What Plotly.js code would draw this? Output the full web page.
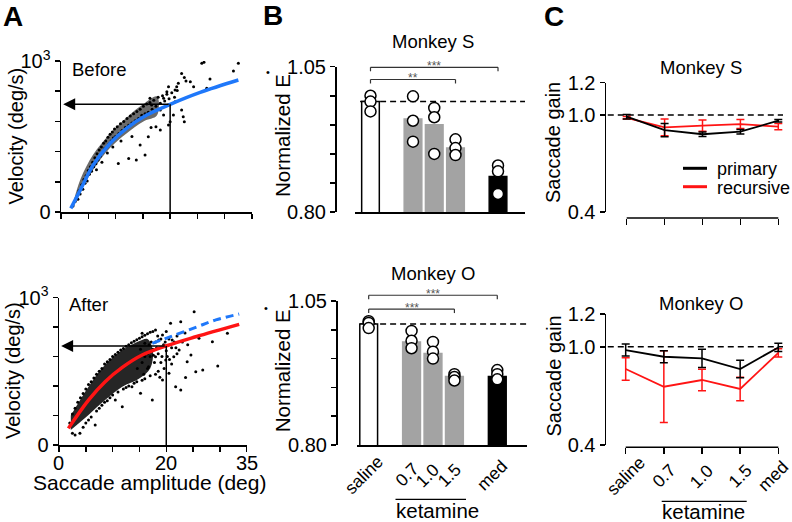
<!DOCTYPE html>
<html><head><meta charset="utf-8">
<script src="https://cdn.plot.ly/plotly-3.0.1.min.js"></script>
<style>html,body{margin:0;padding:0;background:#fff}#chart{width:792px;height:522px}</style>
</head><body><div id="chart"></div>
<script>
// ---------------- DATA ----------------
// Panel A: main sequence (amplitude deg, peak velocity deg/s)
const beforeCurveAmp = [1.8, 3.6, 5.9, 9.0, 12.0, 15.7, 20.0, 25.5, 32.5];
const beforeCurveVel = [24, 150, 311, 455, 554, 642, 713, 792, 874];
const afterCurveAmp = [1.75, 5.5, 8.6, 11.8, 15.5, 19.9, 25.5, 33.6];
const afterCurveVel = [113, 305, 430, 527, 611, 672, 735, 819];
const beforeRefAmp = [17.4, 21.1, 25.5, 29.25, 33.6];
const beforeRefVel = [690, 740, 799, 849, 889];
const refAmp = 20;
const refVelBefore = 713;
const refVelAfter = 672;
// outlines of the densest part of each cloud
const beforeCoreAmp = [2.3, 3.6, 5.9, 9.0, 12.0, 15.1, 17.6, 17.6, 15.1, 12.0, 9.0, 5.9, 3.6, 2.3];
const beforeCoreVel = [70, 220, 380, 520, 625, 715, 765, 640, 600, 520, 425, 280, 140, 30];
const afterCoreAmp = [2.2, 5.5, 8.6, 11.8, 14.9, 16.5, 17.5, 17.0, 14.9, 11.8, 8.6, 5.5, 2.2];
const afterCoreVel = [200, 396, 545, 645, 705, 720, 640, 520, 450, 396, 305, 204, 102];
const beforeDots = [
[2.2,40],[2.6,70],[2.9,100],[3.1,85],[3.3,140],[3.5,120],[3.8,180],[4.0,150],[4.2,215],[4.4,190],[4.6,240],[4.8,205],[5.0,275],[5.2,250],[5.4,300],[5.6,270],[5.8,330],[6.0,300],[6.2,360],[6.4,320],[6.6,385],[6.8,345],[7.0,410],[7.2,370],[7.4,430],[7.6,395],[7.8,455],[8.0,420],[8.2,470],[8.4,430],[8.6,495],[8.8,450],[9.0,515],[9.2,470],[9.4,530],[9.6,490],[9.8,550],[10.0,500],[10.3,565],[10.6,520],[10.9,585],[11.2,540],[11.5,600],[11.8,560],[12.1,620],[12.4,575],[12.7,635],[13.0,590],[13.3,650],[13.6,605],[13.9,665],[14.2,620],[14.5,680],[14.8,640],[15.1,700],[15.4,650],[15.7,715],[16.0,660],[16.3,725],[16.7,680],[17.0,740],[17.4,700],[17.8,760],[18.2,720],[18.6,770],[19.0,735],[19.4,780],[19.8,750],[20.3,790],[20.8,760],[21.3,805],
[6.5,280],[7.5,330],[8.5,390],[9.5,430],[10.5,322],[11.0,470],[12.4,355],[13.0,500],[13.8,344],[14.5,444],[15.4,377],[16.0,499],[16.5,560],[17.4,565],[18.2,543],[18.2,675],[18.8,642],[18.8,753],[19.7,576],[20.0,598],[20.6,642],[20.9,730],[22.1,675],[22.4,631],[22.6,598],[16.3,753],[16.6,709],
[19.4,797],[19.7,830],[20.9,808],[21.2,830],[21.5,852],[22.1,918],[22.6,890],[22.9,868],[23.7,863],[24.3,830],[25.8,985],[26.2,991],[26.7,819],[27.3,881],[31.6,934],[32.5,985]];
const afterDots = [
[2.0,150],[2.5,210],[3.0,250],[3.5,290],[4.0,320],[4.5,350],[5.0,380],[5.5,410],[6.0,430],[6.5,455],[7.0,480],[7.5,500],[8.0,520],[8.5,550],[9.0,565],[9.5,580],[10.0,600],[10.5,615],[11.0,630],[11.5,645],[12.0,655],[12.5,670],[13.0,680],[13.5,695],[14.0,705],[14.5,715],[15.0,725],[15.5,735],[16.0,745],[16.5,755],[17.0,765],[17.5,770],[18.0,781],[18.6,713],[19.3,747],[20.0,770],[20.8,826],[21.1,713],[22.7,837],[25.2,905],[15.5,758],
[2.5,80],[3.0,68],[3.9,79],[4.5,120],[5.0,150],[5.5,170],[6.0,190],[6.75,136],[7.0,230],[7.5,250],[8.0,270],[8.5,290],[9.0,300],[9.5,320],[10.0,340],[10.5,305],[11.0,360],[11.8,260],[12.0,380],[12.5,390],[13.0,400],[13.6,396],[14.0,420],[14.5,430],[15.2,351],[15.5,440],[16.0,450],[16.7,531],[17.0,470],[17.4,305],[18.0,480],[18.5,500],[19.3,441],[19.9,577],[20.5,487],[21.4,599],[21.75,396],[22.4,645],[22.7,373],[23.6,459],[23.9,566],[24.6,611],[25.5,498],[26.1,724],[26.8,509],[28.6,701],[29.6,536],[31.4,758],[18.0,599],
[17.0,600],[17.5,650],[18.0,700],[18.5,620],[19.0,560],[19.5,680],[20.0,640],[20.5,720],[21.0,660],[21.5,700],[22.0,740],[19.0,720],[18.2,660],[17.8,560],[16.5,620],[16.0,690],[20.2,600],[21.0,550],[22.0,620],[23.0,700],[23.5,760],[24.0,680],[19.6,520],[18.8,460],
[15.5,560],[16.0,600],[16.5,520],[15.8,480],[17.2,700],[18.4,740],[19.2,600],[20.6,580],[17.6,610],[16.8,680],[15.2,650],[14.6,520],[19.8,700],[21.8,660]];
const ampTicks = [0, 5, 10, 15, 20, 25, 30, 35];
const ampLabelVals = [0, 20, 35];
const velTicks = [0, 200, 400, 600, 800, 1000];
const velTickText = ['0', '', '', '', '', '10<sup>3</sup>'];

// Panel B: normalized E-dot
const bCats = ['saline', '0.7', '1.0', '1.5', 'med'];
const bSlot = [0, 2, 3, 4, 6];
const bTopMeans = [0.990, 0.960, 0.950, 0.910, 0.861];
const bTopPts = [[1.000, 0.990, 0.973], [0.999, 0.957, 0.921], [0.979, 0.963, 0.900], [0.925, 0.910, 0.898], [0.880, 0.870, 0.831]];
const bBotMeans = [1.010, 0.979, 0.959, 0.919, 0.919];
const bBotPts = [[1.015, 1.012, 1.003], [0.998, 0.981, 0.968], [0.979, 0.962, 0.950], [0.923, 0.918, 0.912], [0.930, 0.923, 0.914]];
// significance brackets: category indices and bracket height (in E units)
const bTopSig = [{from: 0, to: 4, y: 1.049, label: '***'}, {from: 0, to: 3, y: 1.028, label: '**'}];
const bBotSig = [{from: 0, to: 4, y: 1.060, label: '***'}, {from: 0, to: 3, y: 1.036, label: '***'}];
const eTicks = [0.80, 0.85, 0.90, 0.95, 1.00, 1.05];
const eTickText = ['0.80', '', '', '', '', '1.05'];

// Panel C: saccade gain
const cCats = ['saline', '0.7', '1.0', '1.5', 'med'];
const cSlot = [0, 1, 2, 3, 4];
const cTopPrimary = [0.990, 0.907, 0.881, 0.897, 0.965];
const cTopPrimaryErr = [0.014, 0.041, 0.014, 0.014, 0.008];
const cTopRecursive = [0.983, 0.924, 0.934, 0.944, 0.928];
const cTopRecursiveErr = [0.008, 0.052, 0.035, 0.028, 0.019];
const cBotPrimary = [0.980, 0.939, 0.929, 0.864, 0.996];
const cBotPrimaryErr = [0.037, 0.037, 0.055, 0.053, 0.025];
const cBotRecursive = [0.864, 0.756, 0.797, 0.742, 0.963];
const cBotRecursiveErr = [0.069, 0.219, 0.065, 0.072, 0.025];
const gTicks = [0.4, 1.0, 1.2];
const gTickText = ['0.4', '1.0', '1.2'];

// ---------------- LAYOUT HELPERS ----------------
const W = 792, H = 522;
const fx = p => p / W;
const fy = p => 1 - p / H;
const FONT = 'Arial, "Liberation Sans", sans-serif';
const BLUE = '#1f78fa', RED = '#ff1414', GRAY = '#a3a3a3';

function ax(o) {
  return Object.assign({showgrid: false, zeroline: false, showline: true, linecolor: '#000', linewidth: 1.5,
    ticks: 'outside', ticklen: 5, tickwidth: 1.5, tickcolor: '#000', tickfont: {size: 20, color: '#000', family: FONT},
    fixedrange: true}, o);
}
function toPaper(v, dom, rng) { return dom[0] + (v - rng[0]) / (rng[1] - rng[0]) * (dom[1] - dom[0]); }

const domX2 = [fx(59), fx(246.7)], rngA = [0, 35];
const domX3 = [fx(355), fx(525)], rngX3 = [-0.729, 7.27];
const domX4 = [fx(356.7), fx(526.7)], rngX4 = [-0.559, 7.372];
const domY3 = [fy(212), fy(66.7)], domY4 = [fy(445), fy(301)], eRange = [0.8, 1.05];
const domX6 = [fx(606), fx(783)], rngX6 = [-0.516, 4.123];

// ---------------- TRACES ----------------
const traces = [];
// A top
traces.push({type: 'scatter', mode: 'lines', x: beforeCoreAmp, y: beforeCoreVel, fill: 'toself', fillcolor: 'rgba(0,0,0,0.58)', line: {width: 0, color: 'rgba(0,0,0,0)', shape: 'spline'}, xaxis: 'x', yaxis: 'y', hoverinfo: 'skip'});
traces.push({type: 'scatter', mode: 'markers', x: beforeDots.map(d => d[0]), y: beforeDots.map(d => d[1]), marker: {size: 3, color: '#000'}, xaxis: 'x', yaxis: 'y'});
traces.push({type: 'scatter', mode: 'lines', x: beforeCurveAmp, y: beforeCurveVel, line: {color: BLUE, width: 3.5, shape: 'spline'}, xaxis: 'x', yaxis: 'y'});
// A bottom
traces.push({type: 'scatter', mode: 'lines', x: afterCoreAmp, y: afterCoreVel, fill: 'toself', fillcolor: 'rgba(0,0,0,0.85)', line: {width: 0, color: 'rgba(0,0,0,0)', shape: 'spline'}, xaxis: 'x2', yaxis: 'y2', hoverinfo: 'skip'});
traces.push({type: 'scatter', mode: 'markers', x: afterDots.map(d => d[0]), y: afterDots.map(d => d[1]), marker: {size: 3, color: '#000'}, xaxis: 'x2', yaxis: 'y2'});
traces.push({type: 'scatter', mode: 'lines', x: beforeRefAmp, y: beforeRefVel, line: {color: BLUE, width: 3, dash: '8px,5px', shape: 'spline'}, xaxis: 'x2', yaxis: 'y2'});
traces.push({type: 'scatter', mode: 'lines', x: afterCurveAmp, y: afterCurveVel, line: {color: RED, width: 3.5, shape: 'spline'}, xaxis: 'x2', yaxis: 'y2'});

// B
const barFill = ['#ffffff', GRAY, GRAY, GRAY, '#000000'];
const barLine = ['#000000', GRAY, GRAY, GRAY, '#000000'];
function bPanel(means, pts, xa, ya) {
  traces.push({type: 'bar', x: bSlot, y: means, width: 0.83, marker: {color: barFill, line: {color: barLine, width: 1.5}}, xaxis: xa, yaxis: ya});
  const px = [], py = [];
  pts.forEach((arr, i) => arr.forEach(v => { px.push(bSlot[i]); py.push(v); }));
  traces.push({type: 'scatter', mode: 'markers', x: px, y: py, marker: {size: 11, color: '#fff', line: {color: '#000', width: 1.5}}, xaxis: xa, yaxis: ya, cliponaxis: false});
}
bPanel(bTopMeans, bTopPts, 'x3', 'y3');
bPanel(bBotMeans, bBotPts, 'x4', 'y4');

// C
function cPanel(prim, primErr, rec, recErr, xa, ya) {
  traces.push({type: 'scatter', mode: 'lines', x: cSlot, y: rec, name: 'recursive', line: {color: RED, width: 1.8},
    error_y: {type: 'data', array: recErr, visible: true, color: RED, thickness: 1.5, width: 4}, xaxis: xa, yaxis: ya, cliponaxis: false});
  traces.push({type: 'scatter', mode: 'lines', x: cSlot, y: prim, name: 'primary', line: {color: '#000', width: 1.8},
    error_y: {type: 'data', array: primErr, visible: true, color: '#000', thickness: 1.5, width: 4}, xaxis: xa, yaxis: ya, cliponaxis: false});
}
cPanel(cTopPrimary, cTopPrimaryErr, cTopRecursive, cTopRecursiveErr, 'x5', 'y5');
cPanel(cBotPrimary, cBotPrimaryErr, cBotRecursive, cBotRecursiveErr, 'x6', 'y6');

// ---------------- SHAPES & ANNOTATIONS ----------------
const shapes = [], annotations = [];
const LINE = {color: '#000', width: 1.5};
// A reference lines
shapes.push({type: 'line', xref: 'x', yref: 'y', x0: refAmp, x1: refAmp, y0: 0, y1: refVelBefore, line: LINE});
shapes.push({type: 'line', xref: 'x2', yref: 'y2', x0: refAmp, x1: refAmp, y0: 0, y1: refVelAfter, line: LINE});
annotations.push({xref: 'x', yref: 'y', axref: 'x', ayref: 'y', x: 0.4, y: refVelBefore, ax: refAmp, ay: refVelBefore, text: '', showarrow: true, arrowhead: 2, arrowsize: 1.6, arrowwidth: 1.5, arrowcolor: '#000', standoff: 0, startstandoff: 0});
annotations.push({xref: 'x2', yref: 'y2', axref: 'x2', ayref: 'y2', x: 0.4, y: refVelAfter, ax: refAmp, ay: refVelAfter, text: '', showarrow: true, arrowhead: 2, arrowsize: 1.6, arrowwidth: 1.5, arrowcolor: '#000', standoff: 0, startstandoff: 0});

// B dashed reference (saline level) and significance brackets
shapes.push({type: 'line', xref: 'x3 domain', x0: 0.03, x1: 1, yref: 'y3', y0: bTopMeans[0], y1: bTopMeans[0], line: {color: '#000', width: 1.5, dash: '6px,4px'}, layer: 'below'});
shapes.push({type: 'line', xref: 'x4 domain', x0: 0.02, x1: 1, yref: 'y4', y0: bBotMeans[0], y1: bBotMeans[0], line: {color: '#000', width: 1.5, dash: '6px,4px'}, layer: 'below'});
function brackets(sig, domX, rngX, domY) {
  sig.forEach(s => {
    const yp = toPaper(s.y, domY, eRange), yt = yp - 4 / H;
    const xa = toPaper(bSlot[s.from], domX, rngX), xb = toPaper(bSlot[s.to], domX, rngX);
    const L = {color: '#333', width: 1.2};
    shapes.push({type: 'line', xref: 'paper', yref: 'paper', x0: xa, x1: xb, y0: yp, y1: yp, line: L});
    shapes.push({type: 'line', xref: 'paper', yref: 'paper', x0: xa, x1: xa, y0: yp, y1: yt, line: L});
    shapes.push({type: 'line', xref: 'paper', yref: 'paper', x0: xb, x1: xb, y0: yp, y1: yt, line: L});
    annotations.push({xref: 'paper', yref: 'paper', x: (xa + xb) / 2, y: yp, xanchor: 'center', yanchor: 'middle', yshift: 1, text: s.label, showarrow: false, font: {size: 12, color: '#555', family: FONT}});
  });
}
brackets(bTopSig, domX3, rngX3, domY3);
brackets(bBotSig, domX4, rngX4, domY4);

// C dashed at gain 1 and x-axis lines (first to last tick)
shapes.push({type: 'line', xref: 'x5 domain', x0: 0.01, x1: 1, yref: 'y5', y0: 1, y1: 1, line: {color: '#000', width: 1.5, dash: '6px,4px'}, layer: 'below'});
shapes.push({type: 'line', xref: 'x6 domain', x0: 0.01, x1: 1, yref: 'y6', y0: 1, y1: 1, line: {color: '#000', width: 1.5, dash: '6px,4px'}, layer: 'below'});
shapes.push({type: 'line', xref: 'x5', yref: 'paper', x0: cSlot[0], x1: cSlot[4], y0: fy(218), y1: fy(218), line: LINE});
shapes.push({type: 'line', xref: 'x6', yref: 'paper', x0: cSlot[0], x1: cSlot[4], y0: fy(447.3), y1: fy(447.3), line: LINE});

// ketamine underlines
shapes.push({type: 'line', xref: 'paper', yref: 'paper', x0: fx(395.5), x1: fx(466), y0: fy(499.3), y1: fy(499.3), line: {color: '#000', width: 1.2}});
shapes.push({type: 'line', xref: 'paper', yref: 'paper', x0: fx(661.7), x1: fx(746.7), y0: fy(501.3), y1: fy(501.3), line: {color: '#000', width: 1.2}});

// legend samples
shapes.push({type: 'line', xref: 'paper', yref: 'paper', x0: fx(683), x1: fx(707), y0: fy(168.3), y1: fy(168.3), line: {color: '#000', width: 3}});
shapes.push({type: 'line', xref: 'paper', yref: 'paper', x0: fx(683), x1: fx(707), y0: fy(186.7), y1: fy(186.7), line: {color: RED, width: 3}});

function txt(t, x, y, size, extra) {
  annotations.push(Object.assign({xref: 'paper', yref: 'paper', x: fx(x), y: fy(y), text: t, showarrow: false,
    xanchor: 'center', yanchor: 'middle', borderpad: 0, font: {size: size, color: '#000', family: FONT}}, extra || {}));
}
// category labels (rotated) for the bottom B and C panels, kept inside the figure
function catLabel(c, xp, yPix) {
  annotations.push({xref: 'paper', yref: 'paper', x: Math.min(xp, fx(773)), y: fy(yPix), text: c, textangle: -45,
    showarrow: false, xanchor: 'center', yanchor: 'middle', borderpad: 0, font: {size: 17.5, color: '#000', family: FONT}});
}
bCats.forEach((c, i) => catLabel(c, toPaper(bSlot[i], domX4, rngX4) - 5 / W, 475));
cCats.forEach((c, i) => catLabel(c, toPaper(cSlot[i], domX6, rngX6), 476));
// amplitude tick labels for A bottom
ampLabelVals.forEach(v => annotations.push({xref: 'paper', yref: 'paper', x: toPaper(v, domX2, rngA), y: fy(462.5), text: String(v),
  showarrow: false, xanchor: 'center', yanchor: 'middle', borderpad: 0, font: {size: 20, color: '#000', family: FONT}}));

txt('<b>A</b>', 13.5, 16, 28);
txt('<b>B</b>', 273, 15, 28);
txt('<b>C</b>', 554, 16, 28);
txt('Before', 99, 69, 18.5);
txt('After', 88.3, 304.5, 18.5);
txt('Velocity (deg/s)', 15, 136.5, 20, {textangle: -90});
txt('Velocity (deg/s)', 13, 371, 20, {textangle: -90});
txt('Saccade amplitude (deg)', 149, 482, 21);
txt('Normalized E', 282, 136, 20.5, {textangle: -90});
txt('Normalized E', 282, 371.3, 20.5, {textangle: -90});
txt('•', 268, 71.7, 11);
txt('•', 266, 307.5, 11);
txt('Saccade gain', 553, 143, 20, {textangle: -90});
txt('Saccade gain', 553, 376.5, 20, {textangle: -90});
txt('Monkey S', 433, 41, 18.5);
txt('Monkey O', 433, 273, 18.5);
txt('Monkey S', 701, 67.5, 18.5);
txt('Monkey O', 701, 303, 18.5);
txt('ketamine', 437.7, 510.5, 20.5);
txt('ketamine', 703, 511, 20.5);
txt('primary', 715.5, 169, 18, {xanchor: 'left'});
txt('recursive', 715.5, 187.5, 18, {xanchor: 'left'});

const layout = {
  width: W, height: H, margin: {l: 0, r: 0, t: 0, b: 0}, showlegend: false,
  paper_bgcolor: '#fff', plot_bgcolor: 'rgba(0,0,0,0)', font: {family: FONT, color: '#000'},
  bargap: 0,
  xaxis: ax({domain: [fx(61), fx(252)], range: rngA, tickvals: ampTicks, showticklabels: false, anchor: 'y'}),
  yaxis: ax({domain: [fy(212), fy(61)], range: [0, 1000], tickvals: velTicks, ticktext: velTickText, anchor: 'x'}),
  xaxis2: ax({domain: domX2, range: rngA, tickvals: ampTicks, showticklabels: false, anchor: 'y2'}),
  yaxis2: ax({domain: [fy(445), fy(297.7)], range: [0, 1000], tickvals: velTicks, ticktext: velTickText, anchor: 'x2'}),
  xaxis3: ax({domain: domX3, range: rngX3, ticks: '', showticklabels: false, anchor: 'y3'}),
  yaxis3: ax({domain: domY3, range: eRange, tickvals: eTicks, ticktext: eTickText, anchor: 'free', position: fx(335)}),
  xaxis4: ax({domain: domX4, range: rngX4, ticks: '', showticklabels: false, anchor: 'y4'}),
  yaxis4: ax({domain: domY4, range: eRange, tickvals: eTicks, ticktext: eTickText, anchor: 'free', position: fx(336)}),
  xaxis5: ax({domain: [fx(606), fx(783)], range: [-0.546, 4.124], showline: false, tickvals: cSlot, showticklabels: false, ticklen: 6, anchor: 'free', position: fy(218)}),
  yaxis5: ax({domain: [fy(212), fy(82.7)], range: [0.4, 1.2], tickvals: gTicks, ticktext: gTickText, anchor: 'x5'}),
  xaxis6: ax({domain: domX6, range: rngX6, showline: false, tickvals: cSlot, showticklabels: false, ticklen: 6, anchor: 'free', position: fy(447.3)}),
  yaxis6: ax({domain: [fy(445), fy(314)], range: [0.4, 1.2], tickvals: gTicks, ticktext: gTickText, anchor: 'x6'}),
  shapes: shapes, annotations: annotations
};

Plotly.newPlot('chart', traces, layout, {staticPlot: true, displayModeBar: false});
</script></body></html>
